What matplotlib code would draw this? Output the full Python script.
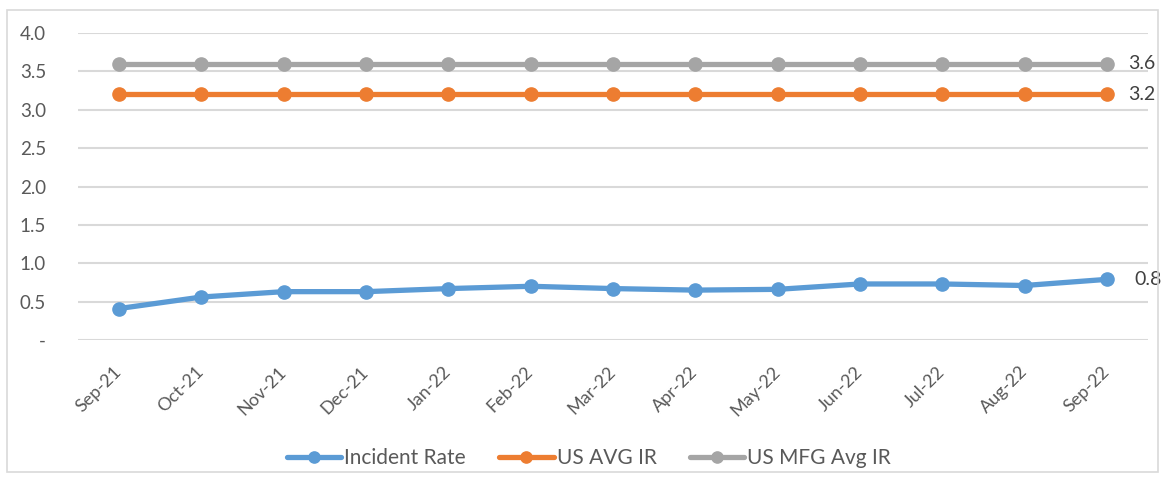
import matplotlib
matplotlib.use("Agg")
import matplotlib.pyplot as plt
from matplotlib.patches import Rectangle

months = ["Sep-21", "Oct-21", "Nov-21", "Dec-21", "Jan-22", "Feb-22", "Mar-22",
          "Apr-22", "May-22", "Jun-22", "Jul-22", "Aug-22", "Sep-22"]
incident_rate = [0.41, 0.56, 0.63, 0.63, 0.67, 0.70, 0.67, 0.65, 0.66, 0.73, 0.73, 0.71, 0.79]
us_avg_ir = [3.2] * 13
us_mfg_avg_ir = [3.6] * 13
y_ticks = [0, 0.5, 1.0, 1.5, 2.0, 2.5, 3.0, 3.5, 4.0]
y_tick_labels = ["-", "0.5", "1.0", "1.5", "2.0", "2.5", "3.0", "3.5", "4.0"]

plt.rcParams['font.family'] = ['Lato', 'DejaVu Sans']

W, H = 1164, 478
fig = plt.figure(figsize=(W / 100, H / 100), dpi=100)
ax = fig.add_axes([78 / W, 1 - 340 / H, (1148 - 78) / W, (340 - 33) / H])

fig.patches.append(Rectangle((7 / W, 6 / H), (1158 - 7) / W, (468 - 6) / H,
                             transform=fig.transFigure, fill=False,
                             edgecolor="#d9d9d9", linewidth=1.2))

x = list(range(len(months)))
series = [
    (incident_rate, "Incident Rate", "#5B9BD5"),
    (us_avg_ir, "US AVG IR", "#ED7D31"),
    (us_mfg_avg_ir, "US MFG Avg IR", "#A5A5A5"),
]
for vals, name, col in series:
    ax.plot(x, vals, color=col, linewidth=3.8, marker="o", markersize=9.5,
            label=name, solid_capstyle="round", zorder=3)
    ax.annotate(f"{vals[-1]:.1f}", (x[-1], vals[-1]),
                xytext=(15 if name != "Incident Rate" else 20, 0),
                textcoords="offset points", va="center", ha="left",
                fontsize=14, color="#404040")

ax.set_xlim(-0.5, len(months) - 0.5)
ax.set_ylim(0, 4.0)
ax.set_yticks(y_ticks)
ax.set_yticklabels(y_tick_labels)
ax.set_xticks(x)
ax.set_xticklabels(months, rotation=45, ha="right", va="center", rotation_mode="anchor")
ax.tick_params(axis="both", length=0, colors="#595959")
ax.tick_params(axis="y", labelsize=13.5, pad=23)
ax.tick_params(axis="x", labelsize=13, pad=21)
for lbl in ax.get_xticklabels():
    lbl.set_x(lbl.get_position()[0])
ax.grid(axis="y", color="#d9d9d9", linewidth=1.5)
ax.set_axisbelow(True)
for s in ax.spines.values():
    s.set_visible(False)

leg = fig.legend(loc="center", bbox_to_anchor=(589 / W, 1 - 458 / H), ncol=3,
                 frameon=False, fontsize=15, handlelength=2.6, markerscale=0.85,
                 columnspacing=1.6, handletextpad=0.15)
for t in leg.get_texts():
    t.set_color("#595959")

fig.savefig("out.png", dpi=100)
